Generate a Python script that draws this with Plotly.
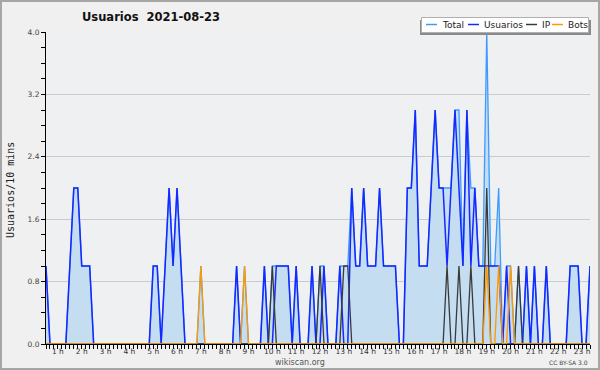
import plotly.graph_objects as go

# ---- data (10-minute buckets, index 0..137) ----
usuarios = [1,0,0,0,0,0,1,2,2,1,
            1,1,0,0,0,0,0,0,0,0,
            0,0,0,0,0,0,0,1,1,0,
            1,2,1,2,1,0,0,0,0,0,
            0,0,0,0,0,0,0,0,1,0,
            0,0,0,0,0,1,0,0,1,1,
            1,1,0,1,0,0,0,1,0,0,
            1,0,0,0,1,0,0,2,1,1,
            2,1,1,1,2,1,1,1,1,0,
            0,2,2,3,1,1,1,2,3,2,
            2,1,2,3,2,1,3,1,2,1,
            1,1,1,1,1,0,1,0,0,0,
            0,1,0,1,0,0,1,0,0,0,
            0,0,1,1,1,0,0,1]
ip = [0,0,0,0,0,0,0,0,0,0,
      0,0,0,0,0,0,0,0,0,0,
      0,0,0,0,0,0,0,0,0,0,
      0,0,0,0,0,0,0,0,0,0,
      0,0,0,0,0,0,0,0,0,0,
      0,0,0,0,0,0,0,1,0,0,
      0,0,0,0,0,0,0,0,0,1,
      0,0,0,0,0,1,1,0,0,0,
      0,0,0,0,0,0,0,0,0,0,
      0,0,0,0,0,0,0,0,0,0,
      0,1,0,0,1,0,0,1,0,0,
      0,2,0,0,0,0,0,0,0,1,
      0,0,0,0,0,0,0,0,0,0,
      0,0,0,0,0,0,0,0]
bots = [0,0,0,0,0,0,0,0,0,0,
        0,0,0,0,0,0,0,0,0,0,
        0,0,0,0,0,0,0,0,0,0,
        0,0,0,0,0,0,0,0,0,1,
        0,0,0,0,0,0,0,0,0,0,
        1,0,0,0,0,0,0,0,0,0,
        0,0,0,0,0,0,0,0,0,0,
        0,0,0,0,0,0,0,0,0,0,
        0,0,0,0,0,0,0,0,0,0,
        0,0,0,0,0,0,0,0,0,0,
        0,0,0,0,0,0,0,0,0,0,
        0,1,0,0,1,0,0,1,0,0,
        0,0,0,0,0,0,0,0,0,0,
        0,0,0,0,0,0,0,0]
total = [1,0,0,0,0,0,1,2,2,1,
         1,1,0,0,0,0,0,0,0,0,
         0,0,0,0,0,0,0,1,1,0,
         1,2,1,2,1,0,0,0,0,1,
         0,0,0,0,0,0,0,0,1,0,
         1,0,0,0,0,1,0,1,1,1,
         1,1,0,1,0,0,0,1,0,1,
         1,0,0,0,1,1,1,2,1,1,
         2,1,1,1,2,1,1,1,1,0,
         0,2,2,3,1,1,1,2,3,2,
         2,2,2,3,3,1,3,2,2,1,
         1,4,1,1,2,0,1,1,0,1,
         0,1,0,1,0,0,1,0,0,0,
         0,0,1,1,1,0,0,1]
slots = list(range(len(total)))

hour_tick_pos = [3, 9, 15, 21, 27, 33, 39, 45, 51, 57, 63, 69, 75, 81,
                 87, 93, 99, 105, 111, 117, 123, 129, 135]
hour_tick_text = ["1 h", "2 h", "3 h", "4 h", "5 h", "6 h", "7 h", "8 h",
                  "9 h", "10 h", "11 h", "12 h", "13 h", "14 h", "15 h",
                  "16 h", "17 h", "18 h", "19 h", "20 h", "21 h", "22 h", "23 h"]
y_tick_vals = [0, 0.8, 1.6, 2.4, 3.2, 4.0]
y_tick_text = ["0.0", "0.8", "1.6", "2.4", "3.2", "4.0"]

C_TOTAL = "#3d9bff"
C_USU = "#1428ff"
C_IP = "#3a3a3a"
C_BOTS = "#ff9900"
C_FILL = "#c5ddf0"

# ---- layout geometry (pixels) ----
W, H = 600, 370
L, R, T, B = 46, 10, 32, 26
PW, PH = W - L - R, H - T - B

def px(xp):
    return (xp - L) / PW

def py(yp):
    return (H - B - yp) / PH

fig = go.Figure()
fig.add_trace(go.Scatter(x=slots, y=total, mode="lines", name="Total",
                         line=dict(color=C_TOTAL, width=1.3),
                         fill="tozeroy", fillcolor=C_FILL))
fig.add_trace(go.Scatter(x=slots, y=usuarios, mode="lines", name="Usuarios",
                         line=dict(color=C_USU, width=1.5)))
fig.add_trace(go.Scatter(x=slots, y=ip, mode="lines", name="IP",
                         line=dict(color=C_IP, width=1.3)))
fig.add_trace(go.Scatter(x=slots, y=bots, mode="lines", name="Bots",
                         line=dict(color=C_BOTS, width=1.3)))

shapes = [
    dict(type="rect", xref="paper", yref="paper", x0=px(1), x1=px(599),
         y0=py(369), y1=py(1), line=dict(color="#a6a6a6", width=2), layer="above"),
    dict(type="rect", xref="paper", yref="paper", x0=px(420), x1=px(591),
         y0=py(35), y1=py(20), fillcolor="#8a8a8a", line=dict(width=0), layer="above"),
    dict(type="rect", xref="paper", yref="paper", x0=px(421.5), x1=px(588.5),
         y0=py(32.5), y1=py(17.5), fillcolor="#ffffff",
         line=dict(color="#b0b0b0", width=1), layer="above"),
]
legend_items = [("Total", C_TOTAL, 426, 440), ("Usuarios", C_USU, 468, 481.5),
                ("IP", C_IP, 526, 540), ("Bots", C_BOTS, 552, 565.5)]
annotations = []
for name, col, sx, tx in legend_items:
    shapes.append(dict(type="line", xref="paper", yref="paper", x0=px(sx), x1=px(sx + 11),
                       y0=py(24.5), y1=py(24.5), line=dict(color=col, width=1.5),
                       layer="above"))
    annotations.append(dict(text=name, xref="paper", yref="paper", x=px(tx), y=py(25),
                            xanchor="left", yanchor="middle", showarrow=False,
                            font=dict(family="DejaVu Sans", size=9, color="#222222")))

annotations += [
    dict(text="<b>Usuarios\u00a0\u00a02021-08-23</b>", xref="paper", yref="paper",
         x=px(151), y=py(17), xanchor="center", yanchor="middle", showarrow=False,
         font=dict(family="DejaVu Sans", size=11.5, color="#111111")),
    dict(text="Usuarios/10 mins", xref="paper", yref="paper", x=px(10), y=py(190),
         xanchor="center", yanchor="middle", showarrow=False, textangle=-90,
         font=dict(family="DejaVu Sans Mono", size=10, color="#222222")),
    dict(text="wikiscan.org", xref="paper", yref="paper", x=px(300), y=py(362),
         xanchor="center", yanchor="middle", showarrow=False,
         font=dict(family="DejaVu Sans", size=8, color="#555555")),
    dict(text="CC BY-SA 3.0", xref="paper", yref="paper", x=px(590), y=py(362),
         xanchor="right", yanchor="middle", showarrow=False,
         font=dict(family="DejaVu Sans", size=6, color="#444444")),
]

fig.update_layout(
    width=W, height=H,
    margin=dict(l=L, r=R, t=T, b=B, pad=0),
    paper_bgcolor="#f0f0f0", plot_bgcolor="#eef0f2",
    showlegend=False,
    shapes=shapes, annotations=annotations,
    xaxis=dict(range=[0, len(total) - 1], showgrid=False, zeroline=False,
               showline=True, linecolor="black", linewidth=1,
               tickmode="array", tickvals=hour_tick_pos, ticktext=hour_tick_text,
               ticks="outside", ticklen=4, tickcolor="black", tickwidth=1,
               ticklabelstandoff=-4,
               tickfont=dict(family="DejaVu Sans", size=7.5, color="#333333"),
               minor=dict(dtick=1, tick0=0, ticks="outside", ticklen=4,
                          tickcolor="black", tickwidth=1, showgrid=False),
               automargin=False, fixedrange=True),
    yaxis=dict(range=[0, 4], showgrid=True, gridcolor="#cbcbcb", gridwidth=1,
               zeroline=False, showline=True, linecolor="black", linewidth=1,
               tickmode="array", tickvals=y_tick_vals, ticktext=y_tick_text,
               ticks="outside", ticklen=4, tickcolor="black", tickwidth=1,
               tickfont=dict(family="DejaVu Sans", size=7.5, color="#444444"),
               minor=dict(dtick=0.2, tick0=0, ticks="outside", ticklen=4,
                          tickcolor="black", tickwidth=1, showgrid=False),
               automargin=False, fixedrange=True),
)

fig.write_html("out.html")
